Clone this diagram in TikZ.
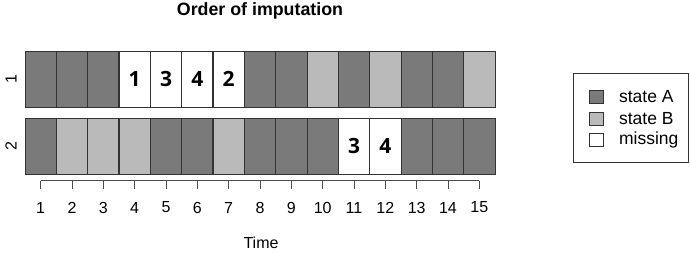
\documentclass[tikz,border=0pt]{standalone}
\usepackage{fontspec}
\setmainfont{Liberation Sans}
\newfontfamily\numfont{Open Sans}
\usetikzlibrary{positioning}
\colorlet{stateA}{black!52}
\colorlet{stateB}{black!27}
\colorlet{missing}{white}
\colorlet{edge}{black!80}
\tikzset{
  cell/.style={rectangle, draw=edge, line width=1pt, minimum width=31.33pt, minimum height=56pt, inner sep=0pt, font=\numfont\bfseries\fontsize{21}{24}\selectfont},
  axisline/.style={draw=black!70, line width=0.9pt},
  lab/.style={font=\fontsize{16}{19}\selectfont, inner sep=0pt},
  keylab/.style={font=\fontsize{17.5}{20}\selectfont, inner sep=0pt},
  key/.style={rectangle, draw=edge, line width=0.8pt, minimum width=14pt, minimum height=13pt, inner sep=0pt},
}

\begin{document}
\begin{tikzpicture}[x=1pt, y=-1pt]
  \useasboundingbox (0,0) rectangle (690,252);

  % Title
  \node[font=\bfseries\fontsize{17.8}{20}\selectfont] (title) at (260,11) {Order of imputation};

  % Sequence 1
  \foreach \t/\c/\lab in {1/stateA/{}, 2/stateA/{}, 3/stateA/{}, 4/missing/1, 5/missing/3, 6/missing/4, 7/missing/2, 8/stateA/{}, 9/stateA/{}, 10/stateB/{}, 11/stateA/{}, 12/stateB/{}, 13/stateA/{}, 14/stateA/{}, 15/stateB/{}} {
    \node[cell, fill=\c] (r1c\t) at ({25+(\t-0.5)*31.333}, 79) {\lab};
  }

  % Sequence 2
  \foreach \t/\c/\lab in {1/stateA/{}, 2/stateB/{}, 3/stateB/{}, 4/stateB/{}, 5/stateA/{}, 6/stateA/{}, 7/stateB/{}, 8/stateA/{}, 9/stateA/{}, 10/stateA/{}, 11/missing/3, 12/missing/4, 13/stateA/{}, 14/stateA/{}, 15/stateA/{}} {
    \node[cell, fill=\c] (r2c\t) at ({25+(\t-0.5)*31.333}, 146) {\lab};
  }

  % Row labels
  \node[lab, rotate=90] (row1) at (11,79) {1};
  \node[lab, rotate=90] (row2) at (11,146) {2};

  % Time axis
  \foreach \t in {1,...,15} {
    \coordinate (t\t) at ([yshift=-6pt]r2c\t.south);
    \draw[axisline] (t\t) -- ([yshift=-8pt]t\t);
    \node[lab] (tl\t) at ([yshift=-27pt]t\t) {\t};
  }
  \draw[axisline] (t1) -- (t15);
  \node[lab] (xlab) at (261,243) {Time};

  % Legend
  \node[draw=edge, line width=0.8pt, minimum width=115pt, minimum height=89pt, inner sep=0pt] (legend) at (630.5,117.5) {};
  \node[key, fill=stateA] (keyA) at (596.5,97) {};
  \node[key, fill=stateB] (keyB) at (596.5,118.5) {};
  \node[key, fill=missing] (keyM) at (596.5,140) {};
  \node[keylab, right=15pt of keyA] (txtA) {state A};
  \node[keylab, right=15pt of keyB] (txtB) {state B};
  \node[keylab, right=15pt of keyM] (txtM) {missing};
\end{tikzpicture}
\end{document}
